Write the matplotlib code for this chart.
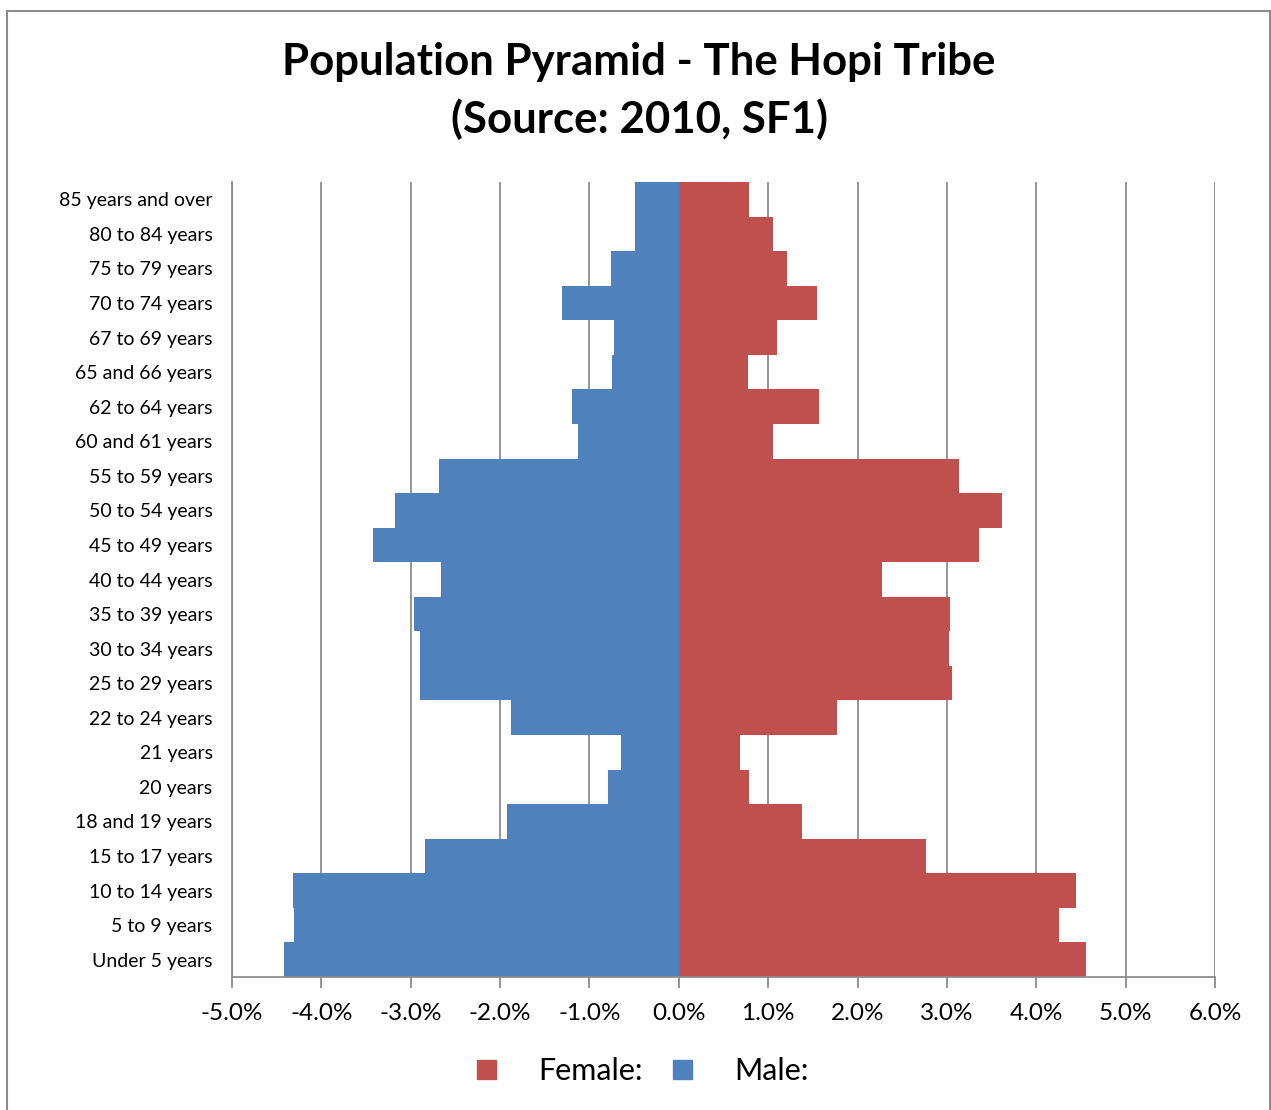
import matplotlib.pyplot as plt
from matplotlib.patches import Rectangle, Patch
from matplotlib.ticker import FuncFormatter

plt.rcParams['font.family'] = ['Lato', 'DejaVu Sans']

# age groups, bottom to top
ages = ['Under 5 years', '5 to 9 years', '10 to 14 years', '15 to 17 years',
        '18 and 19 years', '20 years', '21 years', '22 to 24 years',
        '25 to 29 years', '30 to 34 years', '35 to 39 years', '40 to 44 years',
        '45 to 49 years', '50 to 54 years', '55 to 59 years', '60 and 61 years',
        '62 to 64 years', '65 and 66 years', '67 to 69 years', '70 to 74 years',
        '75 to 79 years', '80 to 84 years', '85 years and over']

# percent of total population
male = [-4.42, -4.31, -4.32, -2.84, -1.92, -0.79, -0.65, -1.88,
        -2.90, -2.90, -2.96, -2.66, -3.42, -3.18, -2.68, -1.13,
        -1.20, -0.75, -0.73, -1.31, -0.76, -0.49, -0.49]
female = [4.56, 4.25, 4.45, 2.77, 1.38, 0.79, 0.68, 1.77,
          3.06, 3.02, 3.04, 2.27, 3.36, 3.62, 3.14, 1.05,
          1.57, 0.77, 1.10, 1.55, 1.21, 1.05, 0.79]

blue = '#4F81BD'
red = '#C0504D'
grid_col = '#8C8C8C'

fig = plt.figure(figsize=(12.71, 11.10), dpi=100)
ax = fig.add_axes([232 / 1271, 1 - 977 / 1110, (1215 - 232) / 1271, (977 - 182) / 1110])

y = range(len(ages))
ax.barh(y, male, height=1.0, color=blue, zorder=2)
ax.barh(y, female, height=1.0, color=red, zorder=2)

ax.set_xlim(-5, 6)
ax.set_ylim(-0.5, len(ages) - 0.5)
ax.set_xticks(range(-5, 7))
ax.xaxis.set_major_formatter(FuncFormatter(lambda v, p: f'{v:.1f}%'))
ax.set_yticks(list(y))
ax.set_yticklabels(ages)

ax.grid(axis='x', color=grid_col, linewidth=1.3, zorder=0)
ax.set_axisbelow(True)
for s in ['top', 'right']:
    ax.spines[s].set_visible(False)
for s in ['left', 'bottom']:
    ax.spines[s].set_color(grid_col)
    ax.spines[s].set_linewidth(1.3)
ax.tick_params(axis='x', direction='out', length=8, width=1.3, color=grid_col,
               labelsize=17.5, pad=11)
ax.tick_params(axis='y', length=0, labelsize=14, pad=14)

fig.suptitle('Population Pyramid - The Hopi Tribe\n(Source: 2010, SF1)',
             x=639 / 1271, y=1 - 42 / 1110, fontsize=31.5, fontweight='bold',
             linespacing=1.48, va='top')

handles = [Patch(color=red, label='Female:'), Patch(color=blue, label='Male:')]
fig.legend(handles=handles, loc='center', bbox_to_anchor=(643 / 1271, 1 - 1071 / 1110),
           ncol=2, frameon=False, fontsize=22, handlelength=0.6, handleheight=0.6,
           handletextpad=1.4, columnspacing=1.0)

# outer chart border
fig.patches.append(Rectangle((7 / 1271, -0.01), 1263 / 1271, 1.01 - 11 / 1110,
                             transform=fig.transFigure, fill=False,
                             edgecolor='#8C8C8C', linewidth=1.5))

fig.savefig('out.png', dpi=100)
